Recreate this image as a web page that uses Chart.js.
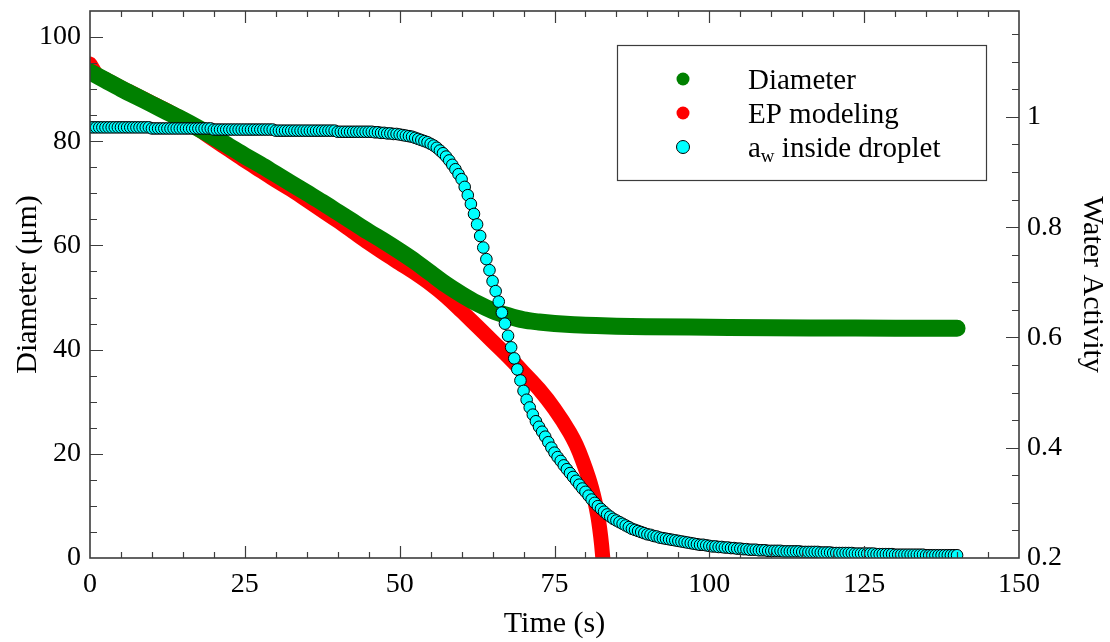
<!DOCTYPE html>
<html><head><meta charset="utf-8">
<script src="https://cdn.jsdelivr.net/npm/chart.js@4.4.1/dist/chart.umd.min.js"></script>
<style>html,body{margin:0;padding:0;background:#fff;overflow:hidden}canvas{display:block}</style>
</head><body>
<canvas id="c" width="1110" height="642" style="width:1110px;height:642px"></canvas>
<script>
// ---------- tick labels ----------
const xTickValues = [0,25,50,75,100,125,150];
const xTickLabels = ['0','25','50','75','100','125','150'];
const leftTickValues = [0,20,40,60,80,100];
const leftTickLabels = ['0','20','40','60','80','100'];
const rightTickValues = [0.2,0.4,0.6,0.8,1.0];
const rightTickLabels = ['0.2','0.4','0.6','0.8','1'];

// ---------- series: Diameter (µm) ----------
const diameterTime = [0,2.5,5,7.5,10,12.5,15,17.5,20,22.5,25,27.5,30,32.5,35,37.5,40,42.5,45,47.5,50,52.5,55,57.5,60,62.5,65,67.5,70,72.5,75,77.5,80,85,90,100,110,120,130,140];
const diameterValues = [93.3,91.7,90.1,88.6,87.1,85.6,84.1,82.5,80.8,79.0,77.2,75.5,73.7,71.9,70.1,68.3,66.4,64.5,62.6,60.8,58.9,56.9,54.7,52.5,50.6,48.9,47.5,46.5,45.7,45.3,45.0,44.8,44.7,44.5,44.4,44.3,44.2,44.15,44.1,44.1];

// ---------- series: EP modeling (µm) ----------
const epTime = [0,1,2.5,5,7.5,10,12.5,15,17.5,20,22.5,25,27.5,30,32.5,35,37.5,40,42.5,45,47.5,50,52.5,55,57.5,60,62.5,65,67.5,70,72.5,75,77.5,78.5,79.5,80.5,81,81.5,82,82.3,82.6,82.8];
const epValues = [94.8,92.9,91.9,90.3,88.8,87.3,85.8,84.2,82.3,80.3,78.3,76.3,74.4,72.5,70.7,68.7,66.7,64.7,62.6,60.5,58.5,56.6,54.7,52.6,50.2,47.4,44.5,41.6,38.7,35.6,32.4,28.6,24.0,21.7,18.8,15.4,13.4,11.0,8.0,5.6,2.6,0];

// ---------- series: water activity inside droplet ----------
const awTime = [
0,0.5,1,1.5,2,2.5,3,3.5,4,4.5,5,5.5,6,6.5,7,7.5,8,8.5,9,9.5,
10,10.5,11,11.5,12,12.5,13,13.5,14,14.5,15,15.5,16,16.5,17,17.5,18,18.5,19,19.5,
20,20.5,21,21.5,22,22.5,23,23.5,24,24.5,25,25.5,26,26.5,27,27.5,28,28.5,29,29.5,
30,30.5,31,31.5,32,32.5,33,33.5,34,34.5,35,35.5,36,36.5,37,37.5,38,38.5,39,39.5,
40,40.5,41,41.5,42,42.5,43,43.5,44,44.5,45,45.5,46,46.5,47,47.5,48,48.5,49,49.5,
50,50.5,51,51.5,52,52.5,53,53.5,54,54.5,55,55.5,56,56.5,57,57.5,58,58.5,59,59.5,
60,60.5,61,61.5,62,62.5,63,63.5,64,64.5,65,65.5,66,66.5,67,67.5,68,68.5,69,69.5,
70,70.5,71,71.5,72,72.5,73,73.5,74,74.5,75,75.5,76,76.5,77,77.5,78,78.5,79,79.5,
80,80.5,81,81.5,82,82.5,83,83.5,84,84.5,85,85.5,86,86.5,87,87.5,88,88.5,89,89.5,
90,90.5,91,91.5,92,92.5,93,93.5,94,94.5,95,95.5,96,96.5,97,97.5,98,98.5,99,99.5,
100,100.5,101,101.5,102,102.5,103,103.5,104,104.5,105,105.5,106,106.5,107,107.5,108,108.5,109,109.5,
110,110.5,111,111.5,112,112.5,113,113.5,114,114.5,115,115.5,116,116.5,117,117.5,118,118.5,119,119.5,
120,120.5,121,121.5,122,122.5,123,123.5,124,124.5,125,125.5,126,126.5,127,127.5,128,128.5,129,129.5,
130,130.5,131,131.5,132,132.5,133,133.5,134,134.5,135,135.5,136,136.5,137,137.5,138,138.5,139,139.5,
140];
const awValues = [
0.981,0.981,0.981,0.981,0.981,0.981,0.981,0.981,0.981,0.981,0.981,0.981,0.981,0.981,0.981,0.981,0.981,0.981,0.981,0.981,
0.979,0.979,0.979,0.979,0.979,0.979,0.979,0.979,0.979,0.979,0.979,0.979,0.979,0.979,0.979,0.979,0.979,0.979,0.979,0.979,
0.977,0.977,0.977,0.977,0.977,0.977,0.977,0.977,0.977,0.977,0.977,0.977,0.977,0.977,0.977,0.977,0.977,0.977,0.977,0.977,
0.975,0.975,0.975,0.975,0.975,0.975,0.975,0.975,0.975,0.975,0.975,0.975,0.975,0.975,0.975,0.975,0.975,0.975,0.975,0.975,
0.973,0.973,0.973,0.973,0.973,0.973,0.973,0.973,0.973,0.973,0.973,0.973,0.972,0.972,0.971,0.971,0.970,0.970,0.969,0.969,
0.968,0.967,0.966,0.965,0.964,0.962,0.960,0.958,0.956,0.954,0.951,0.948,0.944,0.939,0.934,0.928,0.921,0.913,0.905,0.896,
0.887,0.873,0.858,0.842,0.824,0.805,0.784,0.763,0.742,0.722,0.702,0.684,0.665,0.645,0.625,0.603,0.582,0.562,0.542,0.522,
0.503,0.487,0.473,0.460,0.448,0.438,0.429,0.420,0.410,0.400,0.391,0.383,0.376,0.368,0.361,0.354,0.347,0.340,0.333,0.326,
0.320,0.313,0.306,0.300,0.294,0.289,0.284,0.279,0.275,0.271,0.268,0.265,0.262,0.259,0.256,0.253,0.251,0.249,0.247,0.245,
0.243,0.242,0.240,0.239,0.237,0.236,0.235,0.234,0.233,0.232,0.231,0.230,0.229,0.228,0.227,0.226,0.225,0.224,0.224,0.223,
0.222,0.221,0.221,0.220,0.220,0.219,0.219,0.218,0.218,0.217,0.217,0.216,0.216,0.215,0.215,0.215,0.214,0.214,0.214,0.213,
0.213,0.213,0.213,0.213,0.212,0.212,0.212,0.212,0.212,0.212,0.211,0.211,0.211,0.211,0.211,0.211,0.210,0.210,0.210,0.210,
0.209,0.209,0.209,0.209,0.209,0.209,0.209,0.208,0.208,0.208,0.208,0.208,0.208,0.208,0.207,0.207,0.207,0.207,0.207,0.207,
0.206,0.206,0.206,0.206,0.206,0.206,0.206,0.206,0.206,0.206,0.205,0.205,0.205,0.205,0.205,0.205,0.205,0.205,0.205,0.205,
0.205];

const legendLabels = ['Diameter','EP modeling','inside droplet'];
const COLORS = {diameter:'#008000', ep:'#ff0000', aw:'#00ffff'};
const FONT = 'Liberation Serif';
const AXIS = '#3c3c3c';

const pts = (xs, ys) => xs.map((t, i) => ({x: t, y: ys[i]}));
const noPad = s => { s.paddingTop = 0; s.paddingBottom = 0; s.paddingLeft = 0; s.paddingRight = 0; };

const frameTicks = {
  id: 'frameTicks',
  afterDraw(chart) {
    const {ctx, chartArea: a} = chart;
    const sx = chart.scales.x, sy = chart.scales.y, sy2 = chart.scales.y2;
    ctx.save();
    ctx.strokeStyle = AXIS;
    ctx.lineWidth = 1.2;
    ctx.beginPath();
    for (let i = 1; i * 5 < 150; i++) {
      const v = i * 5, p = Math.round(sx.getPixelForValue(v)) + 0.5;
      const len = (v % 25 === 0) ? 12 : 6;
      ctx.moveTo(p, a.bottom); ctx.lineTo(p, a.bottom - len);
      ctx.moveTo(p, a.top); ctx.lineTo(p, a.top + len);
    }
    for (let i = 1; i * 5 <= 105; i++) {
      const v = i * 5, p = Math.round(sy.getPixelForValue(v)) + 0.5;
      if (p < a.top + 1) continue;
      const len = (v % 20 === 0) ? 13 : 7;
      ctx.moveTo(a.left, p); ctx.lineTo(a.left + len, p);
    }
    for (let i = 1; 0.2 + i * 0.05 <= 1.19; i++) {
      const v = 0.2 + i * 0.05, p = Math.round(sy2.getPixelForValue(v)) + 0.5;
      const len = (i % 4 === 0) ? 13 : 7;
      ctx.moveTo(a.right, p); ctx.lineTo(a.right - len, p);
    }
    ctx.stroke();
    ctx.lineWidth = 1.6;
    ctx.strokeRect(a.left, a.top, a.right - a.left, a.bottom - a.top);
    ctx.restore();
  }
};

const legendBox = {
  id: 'legendBox',
  afterDraw(chart) {
    const ctx = chart.ctx;
    ctx.save();
    const bx = 617, by = 45, bw = 369, bh = 135;
    ctx.fillStyle = '#fff';
    ctx.fillRect(bx, by, bw, bh);
    ctx.strokeStyle = AXIS; ctx.lineWidth = 1.2;
    ctx.strokeRect(bx + 0.5, by + 0.5, bw, bh);
    const dotX = 683, textX = 748;
    const rows = [79, 113, 147];
    const fills = [COLORS.diameter, COLORS.ep, COLORS.aw];
    for (let i = 0; i < 3; i++) {
      ctx.beginPath();
      ctx.arc(dotX, rows[i], 6.5, 0, Math.PI * 2);
      ctx.fillStyle = fills[i];
      ctx.fill();
      if (i === 2) { ctx.lineWidth = 1; ctx.strokeStyle = '#000'; ctx.stroke(); }
    }
    ctx.fillStyle = '#000';
    ctx.textBaseline = 'alphabetic';
    ctx.textAlign = 'left';
    ctx.font = '29px "' + FONT + '"';
    ctx.fillText(legendLabels[0], textX, rows[0] + 10);
    ctx.fillText(legendLabels[1], textX, rows[1] + 10);
    ctx.fillText('a', textX, rows[2] + 10);
    let x = textX + ctx.measureText('a').width;
    ctx.font = '19px "' + FONT + '"';
    ctx.fillText('w', x, rows[2] + 15);
    x += ctx.measureText('w').width;
    ctx.font = '29px "' + FONT + '"';
    ctx.fillText(' ' + legendLabels[2], x, rows[2] + 10);
    ctx.restore();
  }
};

new Chart(document.getElementById('c'), {
  type: 'scatter',
  data: {
    datasets: [
      {
        label: 'aw inside droplet',
        data: pts(awTime, awValues),
        yAxisID: 'y2',
        showLine: false,
        pointRadius: 5.8,
        pointBackgroundColor: COLORS.aw,
        pointBorderColor: '#000',
        pointBorderWidth: 1,
        order: 0,
        clip: 0
      },
      {
        label: 'Diameter',
        data: pts(diameterTime, diameterValues),
        yAxisID: 'y',
        showLine: true,
        borderColor: COLORS.diameter,
        borderWidth: 17,
        pointRadius: 0,
        cubicInterpolationMode: 'monotone',
        borderCapStyle: 'round',
        borderJoinStyle: 'round',
        order: 1,
        clip: 0
      },
      {
        label: 'EP modeling',
        data: pts(epTime, epValues),
        yAxisID: 'y',
        showLine: true,
        borderColor: COLORS.ep,
        borderWidth: 15,
        pointRadius: 0,
        cubicInterpolationMode: 'monotone',
        borderCapStyle: 'round',
        borderJoinStyle: 'round',
        order: 2,
        clip: 0
      }
    ]
  },
  options: {
    responsive: false,
    animation: false,
    devicePixelRatio: 1,
    events: [],
    layout: {padding: {top: 11, left: 0, right: 0, bottom: 0}},
    plugins: {legend: {display: false}, tooltip: {enabled: false}},
    scales: {
      x: {
        type: 'linear', position: 'bottom', min: 0, max: 150,
        afterBuildTicks: s => { s.ticks = xTickValues.map(v => ({value: v})); },
        afterFit: s => { s.height = 84; noPad(s); },
        ticks: {callback: (v, i) => xTickLabels[i], font: {family: FONT, size: 28}, color: '#000', padding: 10, maxRotation: 0, autoSkip: false},
        grid: {display: false, drawTicks: false},
        border: {display: false},
        title: {display: true, text: 'Time (s)', font: {family: FONT, size: 30}, color: '#000', padding: {top: 0, bottom: 0}}
      },
      y: {
        type: 'linear', position: 'left', min: 0, max: 105,
        afterBuildTicks: s => { s.ticks = leftTickValues.map(v => ({value: v})); },
        afterFit: s => { s.width = 90; noPad(s); },
        ticks: {callback: (v, i) => leftTickLabels[i], font: {family: FONT, size: 28}, color: '#000', padding: 9, autoSkip: false},
        grid: {display: false, drawTicks: false},
        border: {display: false},
        title: {display: true, text: 'Diameter (μm)', font: {family: FONT, size: 30}, color: '#000', padding: {top: 10, bottom: 0}}
      },
      y2: {
        type: 'linear', position: 'right', min: 0.2, max: 1.192,
        afterBuildTicks: s => { s.ticks = rightTickValues.map(v => ({value: v})); },
        afterFit: s => { s.width = 91; noPad(s); },
        ticks: {callback: (v, i) => rightTickLabels[i], font: {family: FONT, size: 28}, color: '#000', padding: 8, autoSkip: false},
        grid: {display: false, drawTicks: false},
        border: {display: false},
        title: {display: true, text: 'Water Activity', font: {family: FONT, size: 30}, color: '#000', padding: {top: 0, bottom: 0}}
      }
    }
  },
  plugins: [frameTicks, legendBox]
});
</script>
</body></html>
